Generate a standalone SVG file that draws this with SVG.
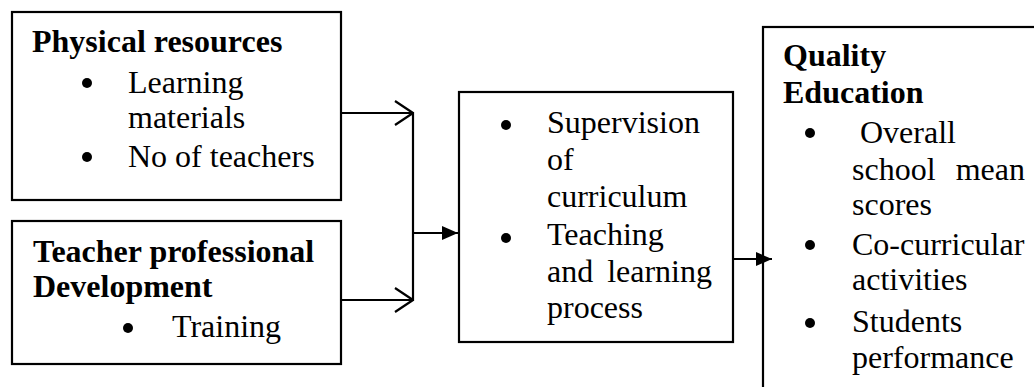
<svg xmlns="http://www.w3.org/2000/svg" width="1034" height="387" viewBox="0 0 1034 387">
<defs>
<style>
.box{fill:#fff;stroke:#000;stroke-width:2.2}
.t{font-family:"Liberation Serif","Times New Roman",serif;font-size:32px;fill:#000}
.b{font-weight:bold}
.ln{fill:none;stroke:#000;stroke-width:2.2}
.dot{fill:#000}
</style>
<marker id="open" viewBox="0 0 20 26" refX="19" refY="13" markerWidth="20" markerHeight="26" markerUnits="userSpaceOnUse" orient="auto">
<path d="M1,1 L19,13 L1,25" fill="none" stroke="#000" stroke-width="2.2"/>
</marker>
<marker id="solid" viewBox="0 0 16 14" refX="16" refY="7" markerWidth="16" markerHeight="14" markerUnits="userSpaceOnUse" orient="auto">
<path d="M0,0 L16,7 L0,14 Z" fill="#000"/>
</marker>
</defs>
<g id="physical">
<rect class="box" x="12" y="12" width="329" height="188"/>
<text class="t b" x="32" y="52">Physical resources</text>
<circle class="dot" cx="87" cy="83" r="5"/>
<text class="t" x="128" y="93">Learning</text>
<text class="t" x="128" y="128">materials</text>
<circle class="dot" cx="87" cy="157" r="5"/>
<text class="t" x="128" y="167">No of teachers</text>
</g>
<g id="teacher">
<rect class="box" x="12" y="221" width="329" height="143"/>
<text class="t b" x="33" y="262">Teacher professional</text>
<text class="t b" x="33" y="297">Development</text>
<circle class="dot" cx="128" cy="328" r="5"/>
<text class="t" x="172" y="337">Training</text>
</g>
<g id="process">
<rect class="box" x="459" y="92" width="274" height="250"/>
<circle class="dot" cx="506" cy="125" r="5"/>
<text class="t" x="547" y="133">Supervision</text>
<text class="t" x="547" y="170">of</text>
<text class="t" x="547" y="207">curriculum</text>
<circle class="dot" cx="506" cy="238" r="5"/>
<text class="t" x="547" y="245">Teaching</text>
<text class="t" x="547" y="282">and</text>
<text class="t" x="712" y="282" text-anchor="end">learning</text>
<text class="t" x="547" y="318">process</text>
</g>
<g id="quality">
<rect class="box" x="763" y="27" width="300" height="400"/>
<text class="t b" x="783" y="66">Quality</text>
<text class="t b" x="783" y="103">Education</text>
<circle class="dot" cx="810" cy="133" r="5"/>
<text class="t" x="860" y="143">Overall</text>
<text class="t" x="852" y="180">school</text>
<text class="t" x="1025" y="180" text-anchor="end">mean</text>
<text class="t" x="852" y="215">scores</text>
<circle class="dot" cx="810" cy="245" r="5"/>
<text class="t" x="852" y="255">Co-curricular</text>
<text class="t" x="852" y="290">activities</text>
<circle class="dot" cx="810" cy="323" r="5"/>
<text class="t" x="852" y="332">Students</text>
<text class="t" x="852" y="368">performance</text>
</g>
<g id="connectors">
<path class="ln" d="M341,113 H413" marker-end="url(#open)"/>
<path class="ln" d="M341,300 H413" marker-end="url(#open)"/>
<path class="ln" d="M413,112 V301"/>
<path class="ln" d="M413,233 H458" marker-end="url(#solid)"/>
<path class="ln" d="M733,259 H772" marker-end="url(#solid)"/>
</g>
</svg>
